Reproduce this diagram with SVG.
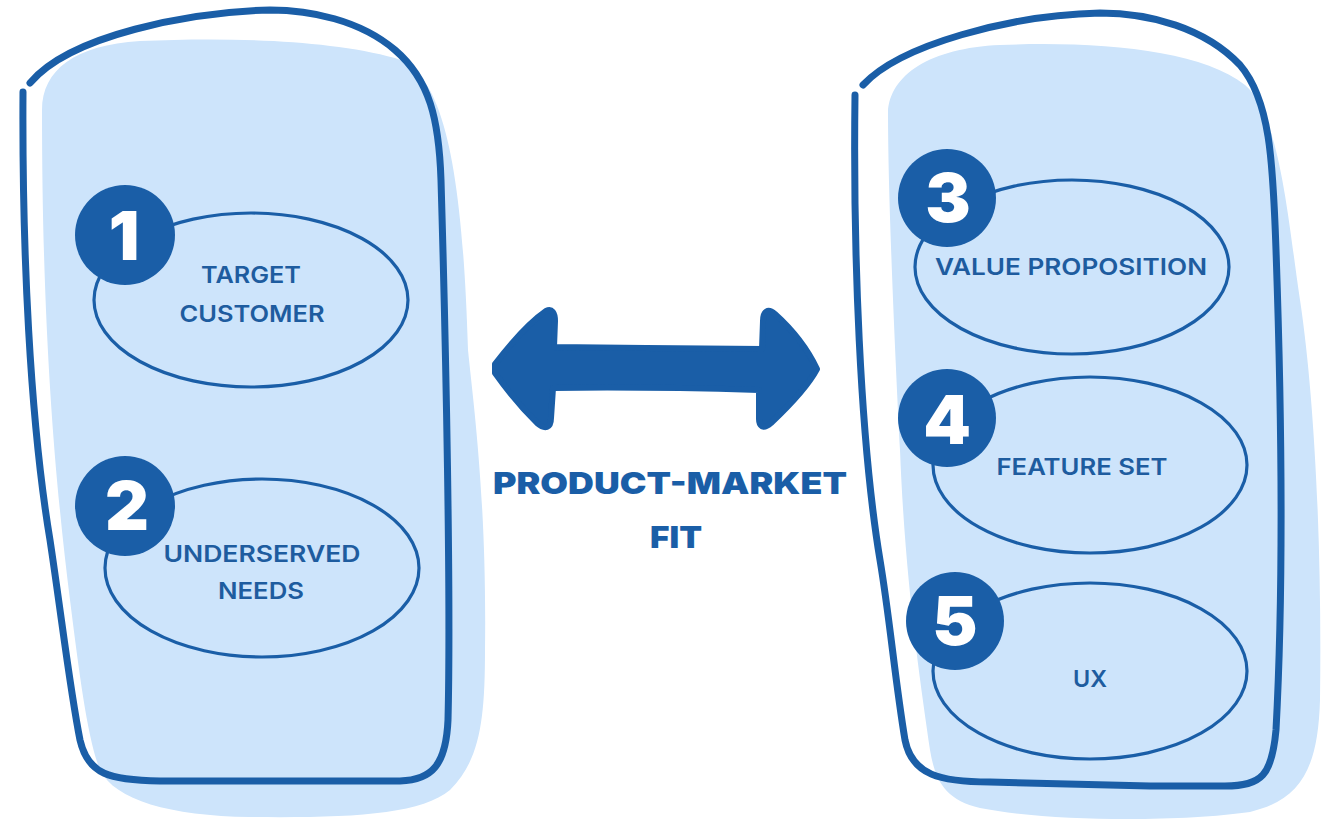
<svg xmlns="http://www.w3.org/2000/svg" width="1323" height="823" viewBox="0 0 1323 823">
  <style>
    .blob { fill: #cde4fb; stroke: none; }
    .frame { fill: none; stroke: #1a5ea7; stroke-width: 7; stroke-linecap: round; stroke-linejoin: round; }
    .oval { fill: none; stroke: #1a5ea7; stroke-width: 3.2; }
    .badge { fill: #1a5ea7; }
    .digit { fill: #ffffff; font-family: Inter, "Liberation Sans", sans-serif; font-weight: 900; font-size: 68px; text-anchor: middle; }
    .label { fill: #1e5c9f; font-family: Inter, "Liberation Sans", sans-serif; font-weight: 600; font-size: 23px; text-anchor: middle; }
    .title { fill: #1a5ea7; font-family: Inter, "Liberation Sans", sans-serif; font-weight: 900; font-size: 30px; text-anchor: middle; }
    .arrow { fill: #1a5ea7; stroke: #1a5ea7; stroke-width: 6; stroke-linejoin: round; }
  </style>

  <!-- market side panel -->
  <g id="market-panel">
    <path class="blob" d="M42,110 C42,70 75,45 140,41 C230,37 330,40 395,58 C440,72 462,150 468,350 C473,400 487,500 485,650 C485,720 480,760 450,790 C420,815 350,818 250,817 C170,816 115,800 100,770 C88,740 80,680 70,600 C55,480 42,330 42,110 Z"/>
    <path class="frame" d="M23,92 C22,250 30,420 50,540 C62,620 70,690 80,740 C88,775 110,780 160,781 L400,781 C432,780 446,765 448,720 C451,600 446,350 441,180 C439,120 430,80 395,50 C360,20 310,10 270,10 C190,12 70,35 30,83"/>
  </g>

  <!-- product side panel -->
  <g id="product-panel">
    <path class="blob" d="M888,112 C890,75 930,48 1000,45 C1100,41 1200,50 1245,85 C1280,115 1288,220 1300,300 C1315,400 1322,550 1320,700 C1318,770 1300,800 1250,812 C1180,822 1050,822 980,808 C945,800 935,780 930,750 C920,680 905,580 900,450 C895,350 888,200 888,112 Z"/>
    <path class="frame" d="M855,95 C853,250 860,440 880,560 C890,620 895,680 905,740 C912,775 940,782 990,782 L1150,786 L1225,786 C1262,786 1272,775 1276,730 C1283,600 1283,450 1276,250 C1273,160 1270,100 1240,65 C1205,28 1150,13 1100,13 C1010,15 900,45 863,85"/>
  </g>

  <g id="target-customer">
    <ellipse class="oval" cx="251" cy="300" rx="157" ry="87"/>
    <circle class="badge" cx="125" cy="235" r="50"/>
    <text class="digit" x="124" y="260">1</text>
    <text class="label" x="251" y="283" textLength="100" lengthAdjust="spacingAndGlyphs">TARGET</text>
    <text class="label" x="252" y="322" textLength="145" lengthAdjust="spacingAndGlyphs">CUSTOMER</text>
  </g>

  <g id="underserved-needs">
    <ellipse class="oval" cx="262" cy="568" rx="157" ry="89"/>
    <circle class="badge" cx="125" cy="506" r="50"/>
    <text class="digit" x="127" y="530">2</text>
    <text class="label" x="262" y="562" textLength="197" lengthAdjust="spacingAndGlyphs">UNDERSERVED</text>
    <text class="label" x="261" y="599" textLength="86" lengthAdjust="spacingAndGlyphs">NEEDS</text>
  </g>

  <g id="value-proposition">
    <ellipse class="oval" cx="1072" cy="267" rx="157" ry="87"/>
    <circle class="badge" cx="947" cy="198" r="49"/>
    <text class="digit" x="948" y="222">3</text>
    <text class="label" x="1071" y="275" textLength="272" lengthAdjust="spacingAndGlyphs">VALUE PROPOSITION</text>
  </g>

  <g id="feature-set">
    <ellipse class="oval" cx="1090" cy="465" rx="157" ry="88"/>
    <circle class="badge" cx="947" cy="418" r="49"/>
    <text class="digit" x="947" y="444">4</text>
    <text class="label" x="1082" y="475" textLength="171" lengthAdjust="spacingAndGlyphs">FEATURE SET</text>
  </g>

  <g id="ux">
    <ellipse class="oval" cx="1090" cy="671" rx="157" ry="88"/>
    <circle class="badge" cx="955" cy="621" r="49"/>
    <text class="digit" x="955" y="645">5</text>
    <text class="label" x="1090" y="687" textLength="34" lengthAdjust="spacingAndGlyphs">UX</text>
  </g>

  <!-- two-way fit connector -->
  <g id="connectors">
    <path class="arrow" d="M495,364 C512,342 530,322 546,311 C552,308 555,313 555,321 L554,347 C620,348 700,348 762,349 L763,321 C763,311 768,308 775,314 C795,332 808,350 817,369 C808,386 790,405 771,423 C763,430 759,426 759,419 L759,390 C690,388 620,387 553,388 L551,418 C551,428 545,430 537,423 C522,408 507,390 495,373 Z"/>
  </g>

  <g id="fit-caption">
    <text class="title" x="670" y="494" textLength="354" lengthAdjust="spacingAndGlyphs">PRODUCT-MARKET</text>
    <text class="title" x="676" y="548" textLength="52" lengthAdjust="spacingAndGlyphs">FIT</text>
  </g>
</svg>
